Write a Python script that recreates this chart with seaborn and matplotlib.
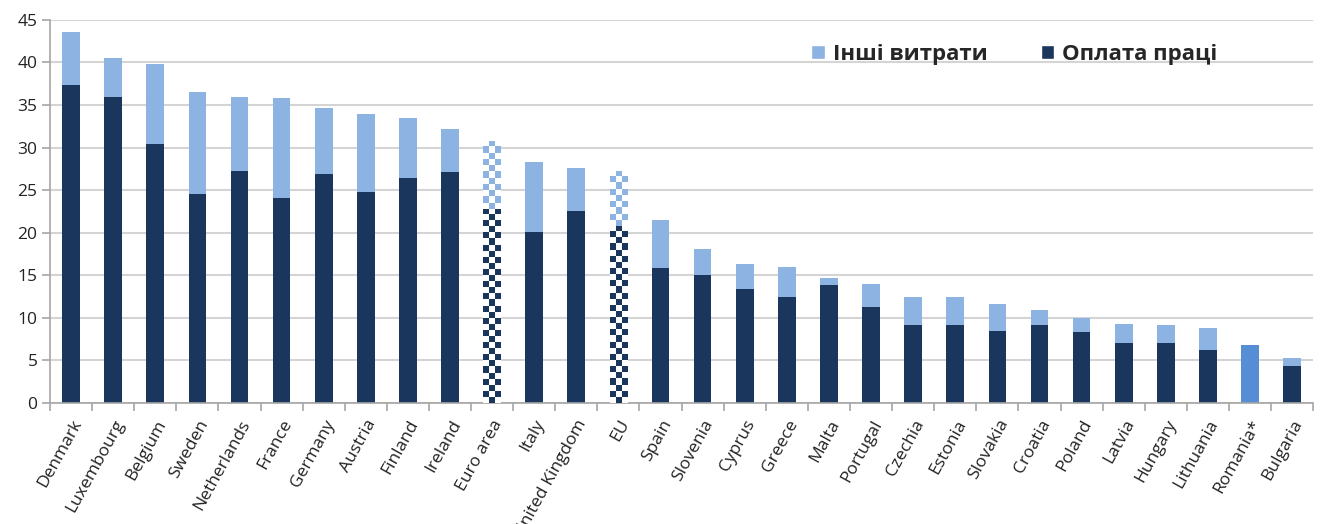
import numpy as np
import pandas as pd
import matplotlib
matplotlib.use("Agg")
import matplotlib.pyplot as plt
import seaborn as sns
from matplotlib.patches import Patch
from matplotlib.colors import ListedColormap

# Data
countries = ['Denmark', 'Luxembourg', 'Belgium', 'Sweden', 'Netherlands', 'France',
             'Germany', 'Austria', 'Finland', 'Ireland', 'Euro area', 'Italy',
             'United Kingdom', 'EU', 'Spain', 'Slovenia', 'Cyprus', 'Greece', 'Malta',
             'Portugal', 'Czechia', 'Estonia', 'Slovakia', 'Croatia', 'Poland',
             'Latvia', 'Hungary', 'Lithuania', 'Romania*', 'Bulgaria']
total_cost = [43.6, 40.5, 39.8, 36.5, 36.0, 35.8, 34.6, 33.9, 33.5, 32.2, 30.8, 28.3,
              27.6, 27.3, 21.5, 18.1, 16.3, 16.0, 14.7, 14.0, 12.5, 12.4, 11.6, 10.9,
              10.0, 9.3, 9.1, 8.8, 6.8, 5.3]
wages = [37.4, 36.0, 30.4, 24.6, 27.3, 24.1, 26.9, 24.8, 26.4, 27.1, 22.8, 20.1,
         22.5, 20.8, 15.9, 15.0, 13.4, 12.4, 13.8, 11.3, 9.1, 9.1, 8.5, 9.2,
         8.3, 7.1, 7.1, 6.2, np.nan, 4.4]
checkered = ['Euro area', 'EU']
no_split = ['Romania*']

legend_other = 'Інші витрати'
legend_wages = 'Оплата праці'

DARK = '#1b365d'
LIGHT = '#8db3e2'
MID = '#558ed5'

df = pd.DataFrame({'country': countries, 'total': total_cost, 'wages': wages})

sns.set_style('white')
plt.rcParams['font.family'] = ['Open Sans', 'DejaVu Sans']

fig = plt.figure(figsize=(13.24, 5.24), dpi=100)
ax = fig.add_axes([0.0378, 0.231, 0.954, 0.731])

sns.barplot(data=df, x='country', y='total', order=countries, color=LIGHT,
            width=0.42, saturation=1, ax=ax, zorder=2)
sns.barplot(data=df.dropna(), x='country', y='wages', order=countries, color=DARK,
            width=0.42, saturation=1, ax=ax, zorder=2)

# recolour special bars (Romania single colour, aggregates checkered)
for p in list(ax.patches):
    p.set_linewidth(0)
    i = int(round(p.get_x() + p.get_width() / 2))
    name = countries[i]
    if name in no_split:
        p.set_facecolor(MID)
    if name in checkered:
        top_layer = abs(p.get_height() - total_cost[i]) < 1e-9
        col = LIGHT if top_layer else DARK
        y0 = wages[i] if top_layer else 0
        p.set_facecolor('white')
        rows = max(1, int(round((p.get_height() - y0) * 8.5 / 6.0)))
        board = np.indices((rows, 3)).sum(axis=0) % 2
        im = ax.imshow(board, cmap=ListedColormap(['white', col]),
                       extent=(p.get_x(), p.get_x() + p.get_width(), y0, p.get_height()),
                       origin='lower', interpolation='nearest', aspect='auto', zorder=3)
        im.set_clip_path(p)

ax.set_xlim(-0.5, len(countries) - 0.5)
ax.set_ylim(0, 45)
ax.set_yticks(range(0, 46, 5))
ax.yaxis.grid(True, color='#d4d4d4', linewidth=1.5, zorder=0)
ax.set_axisbelow(True)
ax.set_xlabel('')
ax.set_ylabel('')

for s in ['top', 'right']:
    ax.spines[s].set_visible(False)
for s in ['left', 'bottom']:
    ax.spines[s].set_color('#a6a6a6')
    ax.spines[s].set_linewidth(1.2)

ax.set_xticks(range(len(countries)))
ax.set_xticklabels(countries, rotation=61, ha='right', rotation_mode='anchor', fontsize=12.5, color='#222222')
ax.set_xticks(np.arange(-0.5, len(countries), 1), minor=True)
ax.tick_params(axis='x', which='major', length=0, pad=10)
ax.tick_params(axis='x', which='minor', length=6, color='#a6a6a6', width=1.2, direction='out')
ax.tick_params(axis='y', length=6, color='#a6a6a6', width=1.2, labelsize=12.5, labelcolor='#222222', pad=3)
ax.tick_params(bottom=True, left=True, which='both')

handles = [Patch(facecolor=LIGHT, label=legend_other), Patch(facecolor=DARK, label=legend_wages)]
ax.legend(handles=handles, loc='center left', bbox_to_anchor=(0.587, 0.91), ncol=2,
          frameon=False, handlelength=0.6, handleheight=0.6, handletextpad=0.35,
          columnspacing=2.4, prop={'weight': 'bold', 'size': 16})

fig.savefig('out.png', dpi=100)
